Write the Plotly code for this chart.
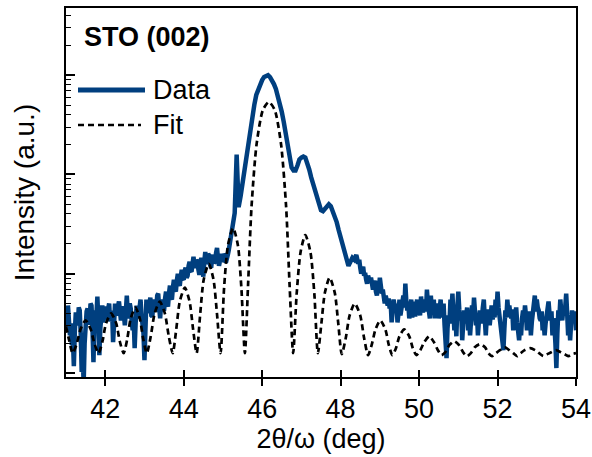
import numpy as np
import plotly.graph_objects as go

# ---- Data: log10(intensity) ----
# left noisy part, 41.000 .. 45.175 every 0.025 deg
left_log10 = [
    1.55,1.47,1.68,1.52,1.38,1.50,1.28,1.35,1.07,1.42, 1.61,1.55,1.48,1.66,1.63,1.40,1.01,1.20,0.89,1.30,
    1.55,1.62,1.65,1.49,1.51,1.70,1.68,1.45,1.11,1.50, 1.63,1.58,1.77,1.52,1.18,1.45,1.61,1.68,1.51,1.60,
    1.67,1.54,1.58,1.66,1.70,1.52,1.55,1.63,1.31,1.49, 1.70,1.58,1.61,1.67,1.72,1.55,1.53,1.64,1.67,1.59,
    1.48,1.62,1.78,1.60,1.55,1.70,1.65,1.52,1.43,1.55, 1.25,1.50,1.68,1.60,1.55,1.66,1.74,1.58,1.51,1.40,
    1.13,1.45,1.74,1.62,1.61,1.70,1.76,1.58,1.57,1.68, 1.74,1.62,1.65,1.78,1.80,1.66,1.55,1.70,1.74,1.64,
    1.63,1.75,1.82,1.70,1.67,1.80,1.88,1.76,1.74,1.86, 1.94,1.84,1.82,1.93,2.00,1.90,1.88,1.97,2.04,1.95,
    1.94,2.03,2.06,1.96,1.98,2.08,2.12,2.03,2.02,2.10, 2.17,2.08,2.06,2.14,2.12,2.04,1.99,2.09,2.16,2.07,
    1.97,2.12,2.22,2.10,2.12,2.20,2.18,2.09,2.06,2.15, 2.19,2.11,2.12,2.21,2.26,2.15,2.08,2.13,2.20,2.14,
    2.12,2.20,2.18,2.11,2.14,2.19,2.24,2.30,
]
# main reflection, 45.20 .. 48.45 every 0.05 deg
peak_log10 = [
    2.38,2.48,2.61,3.20,2.67,2.78,2.92,3.03,3.17,3.30,
    3.45,3.58,3.70,3.80,3.86,3.91,3.95,3.98,3.99,4.00,
    3.98,3.95,3.91,3.86,3.79,3.72,3.63,3.53,3.40,3.27,
    3.15,3.07,3.04,3.04,3.09,3.15,3.17,3.18,3.17,3.12,
    3.05,2.97,2.90,2.82,2.74,2.68,2.64,2.63,2.66,2.68,
    2.70,2.68,2.63,2.57,2.52,2.44,2.36,2.29,2.22,2.16,
    2.08,2.12,2.16,2.14,2.19,2.10,
]
# right noisy part, 48.475 .. 54.000 every 0.025 deg
right_log10 = [
    2.14,2.06,2.00,2.04,2.07,1.98,2.01,1.94,1.90,1.98, 1.93,1.91,1.96,1.87,1.84,1.90,1.93,1.82,1.78,1.88,
    1.84,1.96,1.86,1.80,1.84,1.74,1.70,1.78,1.72,1.68, 1.75,1.65,1.72,1.51,1.62,1.74,1.68,1.61,1.70,1.51,
    1.60,1.74,1.58,1.65,1.72,1.78,1.66,1.90,1.72,1.63, 1.70,1.55,1.62,1.74,1.56,1.65,1.72,1.57,1.64,1.74,
    1.60,1.68,1.58,1.77,1.66,1.61,1.70,1.74,1.62,1.84, 1.70,1.63,1.55,1.78,1.64,1.68,1.74,1.55,1.66,1.63,
    1.70,1.55,1.62,1.74,1.56,1.61,1.70,1.48,1.30,1.15, 1.45,1.58,1.50,1.74,1.62,1.80,1.60,1.43,1.62,1.37,
    1.66,1.82,1.64,1.53,1.60,1.33,1.50,1.63,1.50,1.58, 1.66,1.43,1.55,1.38,1.58,1.68,1.56,1.76,1.62,1.48,
    1.60,1.38,1.52,1.63,1.50,1.55,1.66,1.74,1.55,1.38, 1.56,1.53,1.64,1.48,1.58,1.68,1.54,1.63,1.56,1.74,
    1.62,1.82,1.66,1.58,1.50,1.43,1.36,1.23,1.45,1.63, 1.56,1.74,1.60,1.68,1.60,1.55,1.64,1.43,1.52,1.58,
    1.66,1.51,1.45,1.33,1.50,1.38,1.55,1.63,1.54,1.68, 1.58,1.43,1.60,1.53,1.62,1.38,1.52,1.63,1.70,1.78,
    1.62,1.74,1.66,1.63,1.55,1.53,1.62,1.43,1.52,1.38, 1.50,1.58,1.64,1.72,1.60,1.53,1.62,1.38,1.55,1.48,
    1.30,1.05,1.40,1.63,1.55,1.74,1.62,1.53,1.64,1.58, 1.66,1.80,1.60,1.38,1.52,1.33,1.50,1.63,1.56,1.55,
    1.62,1.43,
]
left_x = np.round(41.0 + 0.025 * np.arange(len(left_log10)), 3)
peak_x = np.round(45.2 + 0.05 * np.arange(len(peak_log10)), 3)
right_x = np.round(48.475 + 0.025 * np.arange(len(right_log10)), 3)

# ---- Fit (Laue oscillations), read at minima / flanks / maxima ----
fit_x = [
    41.00, 41.08, 41.17,
    41.27, 41.37, 41.50, 41.63, 41.73, 41.83,
    41.93, 42.02, 42.15, 42.28, 42.37, 42.47,
    42.56, 42.65, 42.77, 42.88, 42.97, 43.06,
    43.16, 43.26, 43.39, 43.52, 43.62, 43.72,
    43.81, 43.90, 44.03, 44.15, 44.24, 44.33,
    44.42, 44.51, 44.64, 44.76, 44.85, 44.94,
    45.03, 45.13, 45.26, 45.38, 45.47, 45.56,
    45.64, 45.73, 45.86, 46.02, 46.17, 46.32, 46.48, 46.61, 46.70, 46.79,
    46.88, 46.98, 47.10, 47.23, 47.33, 47.42,
    47.51, 47.60, 47.72, 47.85, 47.94, 48.03,
    48.13, 48.23, 48.36, 48.50, 48.60, 48.70,
    48.79, 48.89, 49.01, 49.14, 49.23, 49.32,
    49.41, 49.50, 49.62, 49.75, 49.84, 49.93,
    50.03, 50.13, 50.26, 50.38, 50.48, 50.57,
    50.67, 50.77, 50.90, 51.02, 51.12, 51.22,
    51.32, 51.42, 51.55, 51.68, 51.77, 51.86,
    51.96, 52.06, 52.18, 52.30, 52.40, 52.50,
    52.59, 52.69, 52.83, 52.96, 53.06, 53.17,
    53.27, 53.37, 53.49, 53.61, 53.71, 53.81,
    53.90, 54.00,
]
fit_log10 = [
    1.47, 1.33, 1.20,
    1.29, 1.44, 1.53, 1.44, 1.29, 1.20,
    1.32, 1.50, 1.60, 1.50, 1.32, 1.20,
    1.34, 1.55, 1.66, 1.55, 1.34, 1.20,
    1.37, 1.60, 1.72, 1.60, 1.37, 1.20,
    1.44, 1.72, 1.86, 1.72, 1.44, 1.20,
    1.59, 1.94, 2.10, 1.94, 1.59, 1.20,
    1.86, 2.29, 2.46, 2.29, 1.86, 1.20,
    1.88, 2.68, 3.31, 3.65, 3.73, 3.65, 3.31, 2.68, 1.88, 1.20,
    1.80, 2.22, 2.39, 2.22, 1.80, 1.20,
    1.50, 1.81, 1.96, 1.81, 1.50, 1.19,
    1.35, 1.58, 1.70, 1.58, 1.35, 1.18,
    1.28, 1.44, 1.53, 1.44, 1.28, 1.18,
    1.25, 1.37, 1.44, 1.37, 1.25, 1.18,
    1.23, 1.31, 1.37, 1.31, 1.23, 1.18,
    1.21, 1.28, 1.32, 1.28, 1.21, 1.17,
    1.20, 1.26, 1.29, 1.26, 1.20, 1.17,
    1.20, 1.23, 1.26, 1.23, 1.20, 1.17,
    1.20, 1.23, 1.25, 1.23, 1.20, 1.17,
    1.19, 1.21, 1.23, 1.21, 1.19, 1.17,
    1.19, 1.20,
]

x_ticks = [42, 44, 46, 48, 50, 52, 54]
x_range = [41, 54]
y_log_range = [0.96, 4.676]
y_major = [10, 100, 1000, 10000]
y_minor = [k * 10 ** n for n in range(0, 5) for k in range(2, 10)]

BLUE = "#003f7f"
FONT = "Liberation Sans, Arial, sans-serif"
FS = 27
DASH = "6px,4px"

data_x = np.concatenate([left_x, peak_x, right_x])
data_y = 10 ** np.array(left_log10 + peak_log10 + right_log10)
fit_y = 10 ** np.array(fit_log10)

fig = go.Figure()
fig.add_trace(go.Scatter(x=data_x, y=data_y, mode="lines", name="Data",
                         line=dict(color=BLUE, width=4.5), showlegend=False))
fig.add_trace(go.Scatter(x=fit_x, y=fit_y, mode="lines", name="Fit",
                         line=dict(color="black", width=2.7, dash=DASH,
                                   shape="spline", smoothing=0.7),
                         showlegend=False))
# invisible trace hosting the overlay axes (crossing x ticks, major y ticks)
fig.add_trace(go.Scatter(x=[41, 54], y=[100, 100], xaxis="x2", yaxis="y2",
                         mode="lines", line=dict(width=0), hoverinfo="skip",
                         showlegend=False))

fig.update_layout(
    width=592, height=457,
    margin=dict(l=66, r=16, t=8, b=80, autoexpand=False),
    paper_bgcolor="white", plot_bgcolor="white",
    font=dict(family=FONT, size=FS, color="black"),
    xaxis=dict(range=x_range, tickvals=x_ticks, ticks="outside", ticklen=7,
               tickwidth=1.5, tickcolor="black", showline=True, linewidth=2,
               linecolor="black", mirror=True, showgrid=False, zeroline=False,
               automargin=False, tickfont=dict(size=FS),
               title=dict(text="2θ/ω (deg)", font=dict(size=FS), standoff=4)),
    xaxis2=dict(range=x_range, tickvals=x_ticks, ticks="inside", ticklen=7,
                tickwidth=1.5, tickcolor="black", overlaying="x", side="bottom",
                showticklabels=False, showline=False, showgrid=False,
                zeroline=False, automargin=False),
    yaxis=dict(type="log", range=y_log_range, tickvals=y_minor, ticks="inside",
               ticklen=5, tickwidth=1.2, tickcolor="black", showticklabels=False,
               showline=True, linewidth=2, linecolor="black", mirror=True,
               showgrid=False, zeroline=False, automargin=False,
               title=dict(text="Intensity (a.u.)", font=dict(size=28), standoff=21)),
    yaxis2=dict(type="log", range=y_log_range, tickvals=y_major, ticks="inside",
                ticklen=9, tickwidth=1.5, tickcolor="black", overlaying="y",
                side="left", showticklabels=False, showline=False,
                showgrid=False, zeroline=False, automargin=False),
)

# Legend drawn by hand (long sample lines as in the reference)
def px_x(p):
    return (p - 66) / 510

def px_y(p):
    return (377 - p) / 369

fig.add_shape(type="line", xref="paper", yref="paper",
              x0=px_x(78), x1=px_x(145), y0=px_y(90), y1=px_y(90),
              line=dict(color=BLUE, width=5))
fig.add_shape(type="line", xref="paper", yref="paper",
              x0=px_x(78), x1=px_x(141), y0=px_y(125), y1=px_y(125),
              line=dict(color="black", width=2.7, dash=DASH))
fig.add_annotation(text="Data", xref="paper", yref="paper",
                   x=px_x(151), y=px_y(90), xanchor="left", yanchor="middle",
                   showarrow=False, font=dict(size=FS))
fig.add_annotation(text="Fit", xref="paper", yref="paper",
                   x=px_x(151), y=px_y(125), xanchor="left", yanchor="middle",
                   showarrow=False, font=dict(size=FS))
fig.add_annotation(text="<b>STO (002)</b>", xref="paper", yref="paper",
                   x=px_x(82), y=px_y(37), xanchor="left", yanchor="middle",
                   showarrow=False, font=dict(size=FS))

fig.write_html("out.html")
